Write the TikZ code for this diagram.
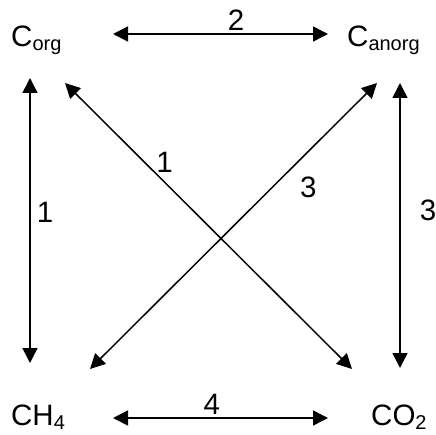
\documentclass[tikz,border=0pt]{standalone}
\usepackage{fontspec}
\setmainfont{Liberation Sans}
\usepackage{tikz}
\usetikzlibrary{arrows.meta}
\newcommand{\chemsub}[1]{\raisebox{-4pt}{\fontsize{20}{24}\selectfont #1}}
\tikzstyle{species} = [inner sep=0pt, anchor=base west, font=\fontsize{29.5}{35}\selectfont]
\tikzstyle{flux} = [{Triangle[length=15pt,width=15pt]}-{Triangle[length=15pt,width=15pt]}, line width=1.5pt]
\tikzstyle{num} = [font=\fontsize{29.5}{35}\selectfont]

\begin{document}
\begin{tikzpicture}[x=1pt, y=1pt]
  \useasboundingbox (0,0) rectangle (436,434);
  \node (corg)   [species] at (11,387)  {C\chemsub{org}};
  \node (canorg) [species] at (347,387) {C\chemsub{anorg}};
  \node (ch4)    [species] at (11,9)    {CH\chemsub{4}};
  \node (co2)    [species] at (371,9)   {CO\chemsub{2}};

  \draw[flux] ([shift={(102,13)}]corg.base west) -- node[num, pos=0.572, above, inner sep=3pt] {2} ([shift={(-19,13)}]canorg.base west);
  \draw[flux] ([shift={(102,7)}]ch4.base west) -- node[num, pos=0.46, above, inner sep=3pt] {4} ([shift={(-43,7)}]co2.base west);
  \draw[flux] ([shift={(19,-31)}]corg.base west) -- node[num, pos=0.47, right, inner sep=6pt] {1} ([shift={(19,62)}]ch4.base west);
  \draw[flux] ([shift={(53,-36)}]canorg.base west) -- node[num, pos=0.446, right, inner sep=19pt] {3} ([shift={(29,57)}]co2.base west);
  \draw[flux] ([shift={(54,-36)}]corg.base west) -- node[num, pos=0.316, above right, inner sep=0pt] {1} ([shift={(-19,56)}]co2.base west);
  \draw[flux] ([shift={(79,56)}]ch4.base west) -- node[num, pos=0.702, below right, inner sep=8pt] {3} ([shift={(30,-36)}]canorg.base west);
\end{tikzpicture}
\end{document}
